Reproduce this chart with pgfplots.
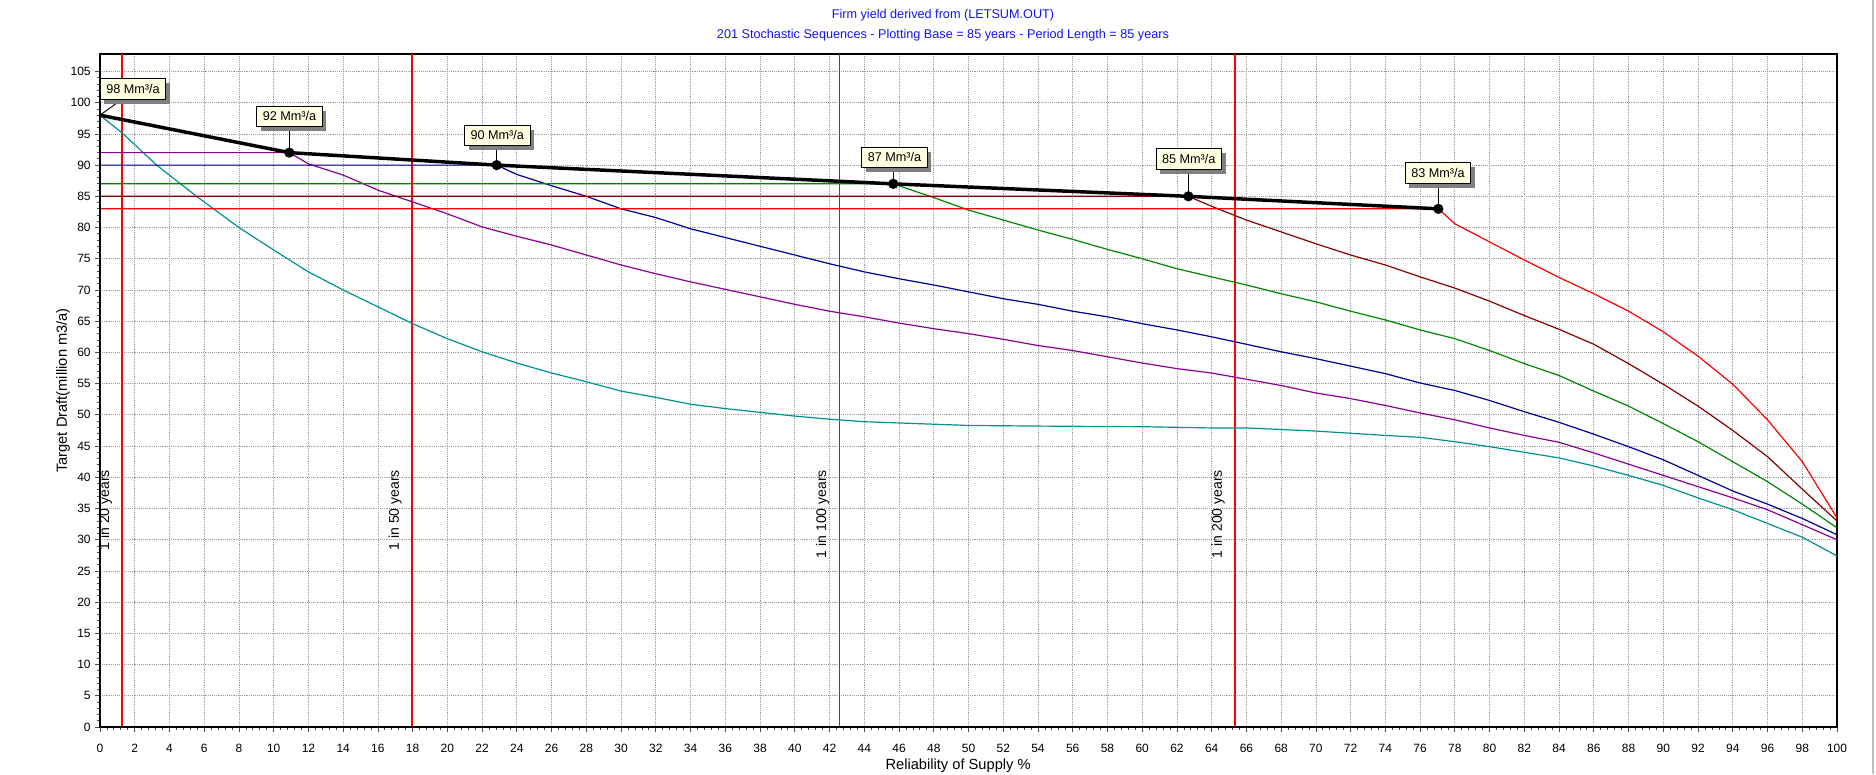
\documentclass[border=0pt]{standalone}
\usepackage{fontspec}
\setmainfont{Liberation Sans}
\usepackage{pgfplots}
\pgfplotsset{compat=1.18}
\usetikzlibrary{shadows}
\definecolor{cteal}{RGB}{0,145,145}
\definecolor{cpurple}{RGB}{140,0,150}
\definecolor{cblue}{RGB}{0,0,150}
\definecolor{cgreen}{RGB}{0,135,0}
\definecolor{cdred}{RGB}{135,0,0}
\definecolor{cred}{RGB}{255,0,0}
\definecolor{boxyellow}{RGB}{255,255,225}
\definecolor{titleblue}{RGB}{20,20,240}
\tikzset{lbl/.style={draw=black, line width=0.6pt, fill=boxyellow,
  font=\fontsize{9.5}{10}\selectfont, inner xsep=4.5pt, inner ysep=2.5pt, minimum height=15.5pt,
  drop shadow={shadow xshift=3pt, shadow yshift=-3.5pt, fill=gray, opacity=1}}}
\begin{document}
\begin{tikzpicture}
\path[use as bounding box] (-75pt,-35.25pt) rectangle (1332pt,545.25pt);
\begin{axis}[
  at={(0,0)}, anchor=south west,
  scale only axis, width=1302.75pt, height=504.75pt,
  xmin=0, xmax=100, ymin=0, ymax=107.8,
  xtick={0,2,...,100}, ytick={0,5,...,105},
  minor x tick num=4, minor y tick num=4,
  tick align=outside, tick pos=left,
  major tick length=3.5pt, minor tick length=2.5pt,
  grid=major, major grid style={densely dotted, gray!75, line width=0.6pt},
  axis line style={black, line width=0.9pt},
  every tick/.style={black!70, line width=0.6pt},
  tick label style={font=\fontsize{9}{10}\selectfont},
  xticklabel style={yshift=-6pt},
  /pgf/number format/assume math mode=true,
  xlabel={Reliability of Supply \%},
  ylabel={Target Draft(million m3/a)},
  xlabel style={at={(axis description cs:0.494,-0.058)}, anchor=center, font=\fontsize{11}{12}\selectfont},
  ylabel style={at={(axis description cs:-0.0213,0.5)}, anchor=center, font=\fontsize{11}{12}\selectfont},
  clip mode=individual,
]
% return-period lines
\addplot[cred, line width=1.1pt] coordinates {(1.28,0) (1.28,107.8)};
\addplot[cred, line width=1.1pt] coordinates {(17.96,0) (17.96,107.8)};
\addplot[cred, line width=1.1pt] coordinates {(42.56,0) (42.56,107.8)};
\addplot[cred, line width=1.1pt] coordinates {(65.33,0) (65.33,107.8)};
% teal
\addplot[cteal, line width=0.9pt] coordinates {
(0,98) (1.34,95) (3.26,90) (5.56,85) (8,80) (10,76.4) (12,72.9) (14,70.0) (16,67.3)
(18,64.6) (20,62.2) (22,60.1) (24,58.3) (26,56.7) (28,55.3) (30,53.8) (32,52.8) (34,51.7)
(36,51.0) (38,50.4) (40,49.8) (42,49.3) (44,48.9) (46,48.7) (48,48.5) (50,48.3) (54,48.2)
(60,48.1) (64,47.9) (66,47.9) (70,47.4) (74,46.7) (76,46.4) (78,45.7) (80,44.9) (82,44.0)
(84,43.1) (86,41.8) (88,40.3) (90,38.7) (92,36.7) (94,34.8) (96,32.6) (98,30.4) (100,27.4)};
% purple
\addplot[cpurple, line width=0.9pt] coordinates {
(0,92) (10.9,92) (12,90.2) (14,88.4) (16,86.0) (18,84.1) (20,82.2) (22,80.1) (24,78.6)
(26,77.2) (28,75.6) (30,74.0) (32,72.6) (34,71.3) (36,70.1) (38,68.9) (40,67.7) (42,66.6)
(44,65.7) (46,64.7) (48,63.8) (50,63.0) (52,62.1) (54,61.1) (56,60.3) (58,59.3) (60,58.3)
(62,57.4) (64,56.7) (66,55.7) (68,54.7) (70,53.5) (72,52.6) (74,51.5) (76,50.3) (78,49.2)
(80,47.9) (82,46.7) (84,45.6) (86,43.9) (88,42.1) (90,40.3) (92,38.5) (94,36.7) (96,34.8)
(98,32.4) (100,30.0)};
% blue
\addplot[cblue, line width=0.9pt] coordinates {
(0,90) (22.84,90) (24,88.5) (26,86.7) (28,85.0) (30,83.0) (32,81.6) (34,79.8) (36,78.4)
(38,77.0) (40,75.6) (42,74.2) (44,72.9) (46,71.8) (48,70.8) (50,69.7) (52,68.6) (54,67.7)
(56,66.6) (58,65.7) (60,64.6) (62,63.6) (64,62.5) (66,61.3) (68,60.1) (70,59.0) (72,57.8)
(74,56.6) (76,55.1) (78,53.9) (80,52.3) (82,50.5) (84,48.8) (86,46.9) (88,44.9) (90,42.8)
(92,40.3) (94,37.8) (96,35.7) (98,33.4) (100,30.8)};
% green
\addplot[cgreen, line width=0.9pt] coordinates {
(0,87) (45.67,87) (48,84.8) (50,82.8) (52,81.2) (54,79.6) (56,78.1) (58,76.5) (60,75.0)
(62,73.4) (64,72.1) (66,70.8) (68,69.4) (70,68.1) (72,66.6) (74,65.2) (76,63.6) (78,62.2)
(80,60.3) (82,58.2) (84,56.3) (86,53.8) (88,51.4) (90,48.6) (92,45.7) (94,42.5) (96,39.3)
(98,35.7) (100,31.9)};
% dark red
\addplot[cdred, line width=0.9pt] coordinates {
(0,85) (62.66,85) (64,83.4) (66,81.2) (68,79.3) (70,77.4) (72,75.6) (74,74.0) (76,72.1)
(78,70.3) (80,68.2) (82,65.9) (84,63.7) (86,61.3) (88,58.2) (90,54.9) (92,51.4) (94,47.5)
(96,43.3) (98,38.1) (100,33.0)};
% red
\addplot[cred, line width=0.9pt] coordinates {
(0,83) (77.05,83) (78,80.6) (80,77.7) (82,74.8) (84,72.0) (86,69.4) (88,66.6) (90,63.3)
(92,59.4) (94,54.9) (96,49.2) (98,42.5) (100,33.5)};
% firm yield line
\addplot[black, line width=2.6pt] coordinates {
(0,98) (10.9,92) (22.84,90) (45.67,87) (62.66,85) (77.05,83)};
\addplot[only marks, mark=*, mark size=3.6pt, black] coordinates {
(10.9,92) (22.84,90) (45.67,87) (62.66,85) (77.05,83)};
% thick left/bottom axis
\draw[black, line width=2pt] (rel axis cs:0,1) -- (rel axis cs:0,0) -- (rel axis cs:1,0);
% leaders
\draw[black, line width=0.7pt] (axis cs:0,98) -- (axis cs:1.5,101);
\draw[black, line width=0.7pt] (axis cs:10.9,92) -- (axis cs:10.9,97);
\draw[black, line width=0.7pt] (axis cs:22.84,90) -- (axis cs:22.84,94);
\draw[black, line width=0.7pt] (axis cs:45.67,87) -- (axis cs:45.67,90.5);
\draw[black, line width=0.7pt] (axis cs:62.66,85) -- (axis cs:62.66,90);
\draw[black, line width=0.7pt] (axis cs:77.05,83) -- (axis cs:77.05,88);
% labels
\node[lbl] at (axis cs:1.90,102.2) {98 Mm³/a};
\node[lbl] at (axis cs:10.91,97.8) {92 Mm³/a};
\node[lbl] at (axis cs:22.87,94.77) {90 Mm³/a};
\node[lbl] at (axis cs:45.74,91.24) {87 Mm³/a};
\node[lbl] at (axis cs:62.68,90.96) {85 Mm³/a};
\node[lbl] at (axis cs:77.03,88.76) {83 Mm³/a};
% return-period labels
\node[rotate=90, anchor=east, font=\fontsize{10.5}{11}\selectfont] at ([xshift=-12.5pt]axis cs:1.28,41.9) {1 in 20 years};
\node[rotate=90, anchor=east, font=\fontsize{10.5}{11}\selectfont] at ([xshift=-12.5pt]axis cs:17.96,41.9) {1 in 50 years};
\node[rotate=90, anchor=east, font=\fontsize{10.5}{11}\selectfont] at ([xshift=-12.5pt]axis cs:42.56,41.9) {1 in 100 years};
\node[rotate=90, anchor=east, font=\fontsize{10.5}{11}\selectfont] at ([xshift=-12.5pt]axis cs:65.33,41.9) {1 in 200 years};
% title
\node[font=\fontsize{9.5}{10}\selectfont, text=titleblue] at (axis description cs:0.4853,1.058) {Firm yield derived from (LETSUM.OUT)};
\node[font=\fontsize{9.5}{10}\selectfont, text=titleblue] at (axis description cs:0.4853,1.028) {201 Stochastic Sequences - Plotting Base = 85 years - Period Length = 85 years};
% window frame edge
\draw[gray!50, line width=1.5pt] (rel axis cs:1.0207,-0.07) -- (rel axis cs:1.0207,1.08);
\end{axis}
\end{tikzpicture}
\end{document}
